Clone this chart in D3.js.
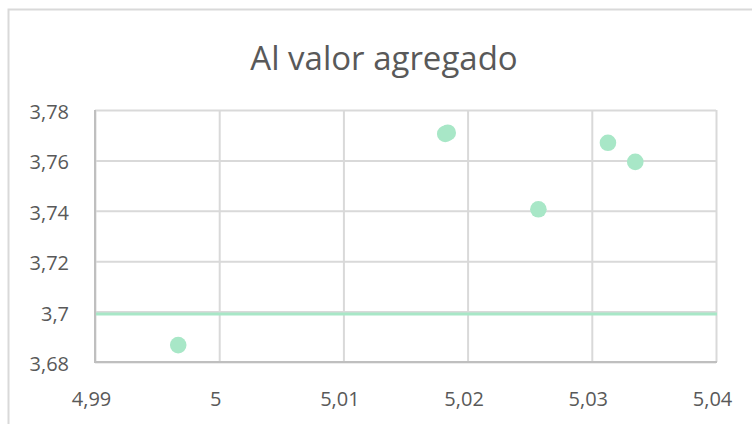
<!DOCTYPE html>
<html>
<head>
<meta charset="utf-8">
<script src="https://cdn.jsdelivr.net/npm/d3@7"></script>
<style>
  html, body { margin: 0; padding: 0; background: #fff; }
  svg { display: block; }
</style>
</head>
<body>
<svg id="chart" width="752" height="424"></svg>
<script>
const title = "Al valor agregado";
const xValues = [5.0182, 5.0184, 5.0313, 5.0335, 5.0257, 4.9967];
const yValues = [3.7705, 3.7710, 3.7670, 3.7594, 3.7406, 3.6867];
const refLineValue = [3.699];
const xTicks = [4.99, 5.00, 5.01, 5.02, 5.03, 5.04];
const xTickLabels = ["4,99", "5", "5,01", "5,02", "5,03", "5,04"];
const yTicks = [3.68, 3.70, 3.72, 3.74, 3.76, 3.78];
const yTickLabels = ["3,68", "3,7", "3,72", "3,74", "3,76", "3,78"];

const svg = d3.select("#chart");
const W = 752, H = 424;
const plot = { left: 95, right: 716, top: 110, bottom: 362 };
const green = "#a8e7c7";
const textColor = "#595959";
const fontFamily = "'Open Sans', 'Noto Sans', sans-serif";

// outer chart border
svg.append("rect")
  .attr("x", 8.5).attr("y", 9.5)
  .attr("width", W + 20).attr("height", H + 20)
  .attr("fill", "#fff").attr("stroke", "#d9d9d9").attr("stroke-width", 2);

const x = d3.scaleLinear().domain([4.99, 5.04]).range([plot.left, plot.right]);
const y = d3.scaleLinear().domain([3.68, 3.78]).range([plot.bottom, plot.top]);

// gridlines
const gy = svg.append("g")
  .attr("transform", `translate(${plot.left},0)`)
  .call(d3.axisLeft(y).tickValues(yTicks).tickSize(-(plot.right - plot.left)).tickFormat(""));
gy.select(".domain").remove();
gy.selectAll(".tick line").attr("stroke", "#d9d9d9").attr("stroke-width", 2);

const gx = svg.append("g")
  .attr("transform", `translate(0,${plot.bottom})`)
  .call(d3.axisBottom(x).tickValues(xTicks).tickSize(-(plot.bottom - plot.top)).tickFormat(""));
gx.select(".domain").remove();
gx.selectAll(".tick line").attr("stroke", "#d9d9d9").attr("stroke-width", 2);

// axis lines
svg.append("line")
  .attr("x1", plot.left).attr("x2", plot.left)
  .attr("y1", plot.top).attr("y2", plot.bottom + 1)
  .attr("stroke", "#bfbfbf").attr("stroke-width", 2);
svg.append("line")
  .attr("x1", plot.left - 1).attr("x2", plot.right + 1)
  .attr("y1", plot.bottom).attr("y2", plot.bottom)
  .attr("stroke", "#bfbfbf").attr("stroke-width", 2);

// tick labels via axes
const ly = svg.append("g")
  .attr("transform", `translate(${plot.left - 26},0)`)
  .call(d3.axisLeft(y).tickValues(yTicks).tickSize(0).tickPadding(0)
    .tickFormat((d, i) => yTickLabels[i]));
ly.select(".domain").remove();
ly.selectAll("text")
  .attr("fill", textColor).attr("font-family", fontFamily).attr("font-size", 20)
  .attr("dy", "0.42em");

const lx = svg.append("g")
  .attr("transform", `translate(0,${plot.bottom})`)
  .call(d3.axisBottom(x).tickValues(xTicks).tickSize(0).tickPadding(0)
    .tickFormat((d, i) => xTickLabels[i]));
lx.select(".domain").remove();
lx.selectAll("text")
  .attr("fill", textColor).attr("font-family", fontFamily).attr("font-size", 20)
  .attr("y", 0).attr("dy", 0)
  .attr("transform", "translate(-4,44)");

// reference horizontal line
svg.selectAll(".refline").data(refLineValue).enter().append("line")
  .attr("class", "refline")
  .attr("x1", plot.left + 1).attr("x2", plot.right + 1)
  .attr("y1", d => y(d)).attr("y2", d => y(d))
  .attr("stroke", green).attr("stroke-width", 3);

// points
const pts = xValues.map((v, i) => ({ x: v, y: yValues[i] }));
svg.selectAll(".pt").data(pts).enter().append("circle")
  .attr("class", "pt")
  .attr("cx", d => x(d.x)).attr("cy", d => y(d.y))
  .attr("r", 8.3)
  .attr("fill", green);

// title
svg.append("text")
  .attr("x", 384).attr("y", 70)
  .attr("text-anchor", "middle")
  .attr("fill", textColor).attr("font-family", fontFamily).attr("font-size", 33)
  .text(title);
</script>
</body>
</html>
